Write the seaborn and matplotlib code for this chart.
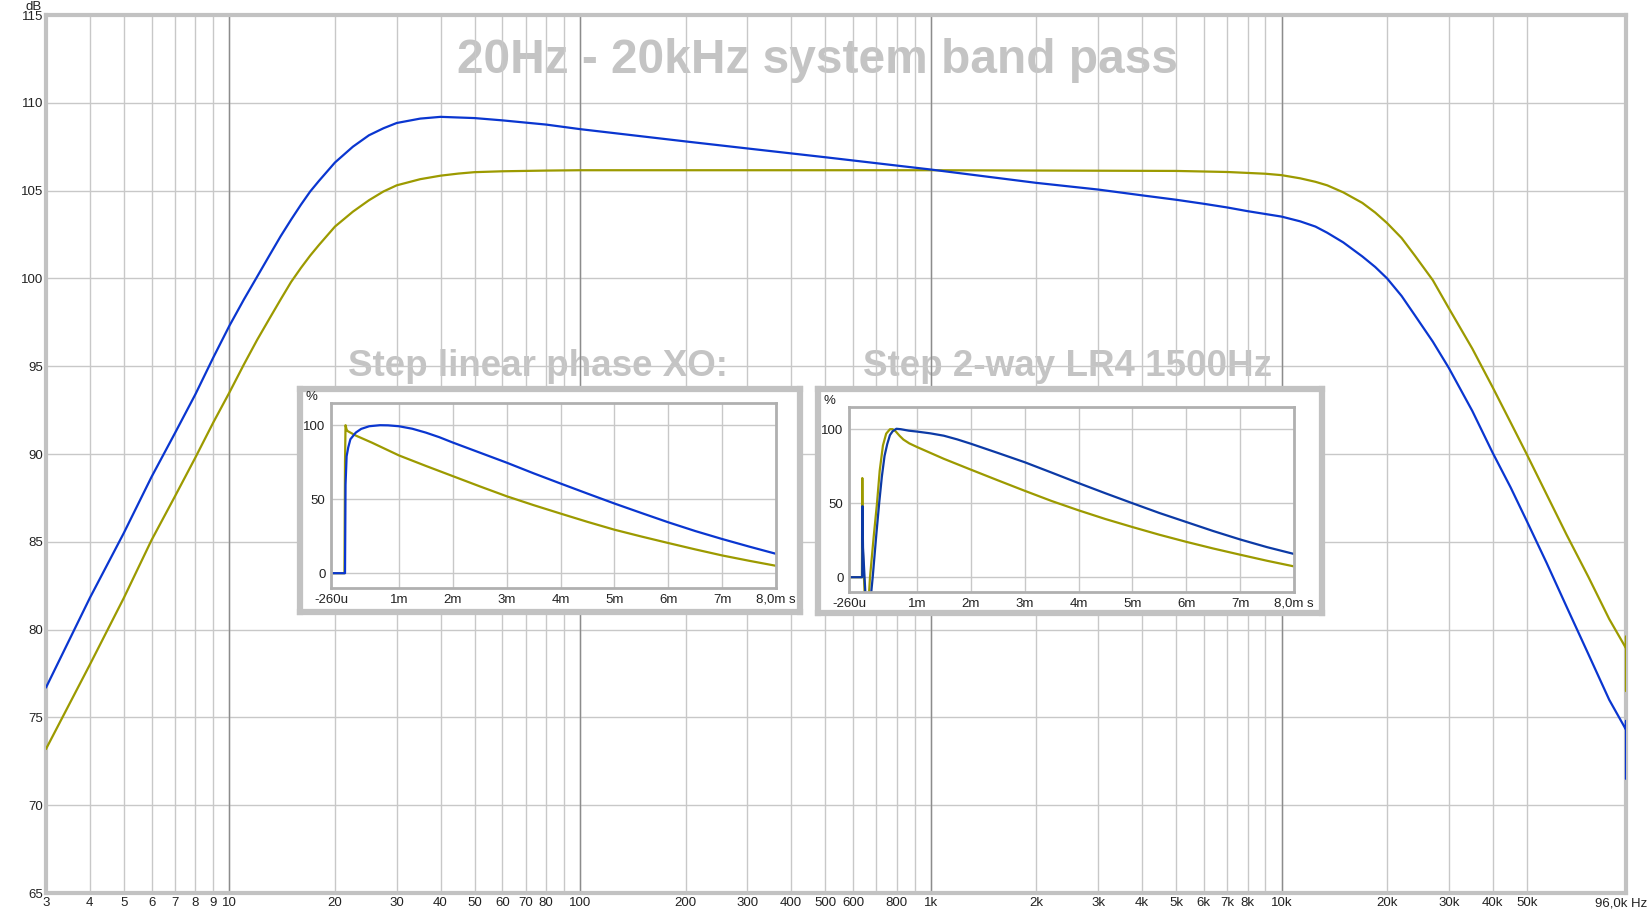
import matplotlib
matplotlib.use("Agg")
import matplotlib.pyplot as plt
import matplotlib.transforms as mtransforms
import seaborn as sns

sns.set_theme(style="white")
plt.rcParams['font.family'] = ['Liberation Sans Narrow', 'Liberation Sans', 'DejaVu Sans']

# --- main frequency response (Hz, dB) ---
blue_freq = [3, 4, 5, 6, 7, 8, 9, 10, 11, 12, 13, 14, 15, 16, 17, 18, 20, 22.5, 25, 27.5, 30, 35,
             40, 50, 60, 80, 100, 200, 300, 500, 1000, 2000, 3000, 4000, 5000, 6000, 7000, 8000,
             10000, 11300, 12500, 13500, 15000, 17000, 18500, 20000, 22000, 24000, 27000, 30000,
             35000, 40000, 45000, 50000, 57000, 65000, 75000, 86000, 96000, 96000, 96000]
blue_db = [76.7, 81.8, 85.5, 88.7, 91.2, 93.4, 95.5, 97.3, 98.8, 100.1, 101.3, 102.4, 103.35,
           104.2, 104.95, 105.55, 106.6, 107.5, 108.15, 108.55, 108.85, 109.1, 109.2, 109.13, 109.0,
           108.76, 108.5, 107.8, 107.4, 106.9, 106.2, 105.44, 105.06, 104.73, 104.48, 104.25, 104.04,
           103.83, 103.52, 103.25, 102.95, 102.6, 102.05, 101.25, 100.65, 100.0, 99.0, 97.9, 96.4,
           94.9, 92.45, 90.07, 88.1, 86.2, 83.8, 81.3, 78.6, 76.0, 74.3, 74.8, 71.5]

olive_freq = [3, 4, 5, 6, 7, 8, 9, 10, 11, 12, 13, 14, 15, 16, 17, 18, 20, 22.5, 25, 27.5, 30, 35,
              40, 45, 50, 60, 80, 100, 1000, 5000, 7000, 9000, 10000, 11300, 12500, 13500, 15000,
              17000, 18500, 20000, 22000, 24000, 27000, 30000, 35000, 40000, 45000, 50000, 57000,
              65000, 75000, 86000, 96000, 96000, 96000]
olive_db = [73.2, 78.0, 81.8, 85.1, 87.6, 89.8, 91.8, 93.5, 95.1, 96.5, 97.7, 98.8, 99.8, 100.6,
            101.3, 101.9, 102.95, 103.8, 104.45, 104.95, 105.3, 105.65, 105.85, 105.97, 106.05,
            106.1, 106.14, 106.16, 106.16, 106.12, 106.06, 105.96, 105.88, 105.7, 105.5, 105.3,
            104.9, 104.3, 103.75, 103.15, 102.3, 101.3, 99.9, 98.3, 96.0, 93.8, 91.8, 90.0, 87.7,
            85.4, 83.0, 80.6, 78.94, 79.6, 76.5]

xtick_vals = [3, 4, 5, 6, 7, 8, 9, 10, 20, 30, 40, 50, 60, 70, 80, 100, 200, 300, 400, 500, 600, 800,
              1000, 2000, 3000, 4000, 5000, 6000, 7000, 8000, 10000, 20000, 30000, 40000, 50000, 96000]
xtick_labels = ['3', '4', '5', '6', '7', '8', '9', '10', '20', '30', '40', '50', '60', '70', '80',
                '100', '200', '300', '400', '500', '600', '800', '1k', '2k', '3k', '4k', '5k', '6k',
                '7k', '8k', '10k', '20k', '30k', '40k', '50k', '96,0k Hz']
xminor_vals = [90, 700, 900, 9000]
decades = [10, 100, 1000, 10000]
ytick_vals = [65, 70, 75, 80, 85, 90, 95, 100, 105, 110, 115]

# --- step responses (ms, %) ---
s1_blue_t = [-0.26, 0.0, 0.01, 0.03, 0.06, 0.1, 0.2, 0.3, 0.45, 0.65, 0.8, 1.0, 1.25, 1.5, 1.75,
             2.0, 2.5, 3.0, 3.5, 4.0, 4.5, 5.0, 5.5, 6.0, 6.5, 7.0, 7.5, 8.0]
s1_blue_v = [0, 0, 60, 79, 85, 90.5, 95, 97.5, 99.3, 100, 99.9, 99.3, 97.6, 95, 91.9, 88.3, 81.5,
             74.7, 67.5, 60.6, 53.8, 47.1, 40.7, 34.4, 28.5, 23.1, 18, 13.1]
s1_olive_t = [-0.26, -0.01, 0.0, 0.01, 0.03, 0.05, 0.2, 0.5, 1.0, 1.5, 2.0, 2.5, 3.0, 3.5, 4.0,
              4.5, 5.0, 5.5, 6.0, 6.5, 7.0, 7.5, 8.0]
s1_olive_v = [0, 0, 75, 100, 97, 96, 93, 88.2, 79.6, 72.5, 65.6, 58.7, 52, 46, 40.3, 34.7, 29.4,
              24.8, 20.4, 16.1, 12, 8.4, 5]

s2_blue_t = [-0.26, -0.015, -0.01, 0.0, 0.05, 0.1, 0.14, 0.18, 0.25, 0.3, 0.35, 0.4, 0.45, 0.5,
             0.55, 0.62, 0.7, 0.85, 1.0, 1.25, 1.5, 1.75, 2.0, 2.5, 3.0, 3.5, 4.0, 4.5, 5.0, 5.5,
             6.0, 6.5, 7.0, 7.5, 8.0]
s2_blue_v = [0, 0, 48, 20, -15, -30, -15, 0, 30, 50, 68, 82, 90, 96, 98.6, 100.3, 100, 99, 98.4,
             97.2, 95.6, 93.1, 90.2, 84, 77.7, 70.7, 63.6, 56.7, 50, 43.4, 37.3, 31.2, 25.5, 20.3,
             15.7]
s2_olive_t = [-0.26, -0.02, -0.013, -0.005, 0.04, 0.08, 0.11, 0.13, 0.2, 0.26, 0.31, 0.37, 0.43,
              0.5, 0.55, 0.6, 0.68, 0.75, 0.86, 1.0, 1.5, 2.0, 2.5, 3.0, 3.5, 4.0, 4.5, 5.0, 5.5,
              6.0, 6.5, 7.0, 7.5, 8.0]
s2_olive_v = [0, 0, 67, 20, -20, -30, -12, 0, 28, 50, 72, 89, 97, 100, 100, 98.8, 95.5, 93.0,
              90.4, 88, 80, 72.7, 65.5, 58.4, 51.5, 45.2, 39.3, 33.9, 28.7, 23.9, 19.4, 15.2,
              11.1, 7.3]

step_ticks = [-0.26, 1, 2, 3, 4, 5, 6, 7, 8]
step_labels = ['-260u', '1m', '2m', '3m', '4m', '5m', '6m', '7m', '8,0m s']
step_yticks = [0, 50, 100]

BLUE = '#0a36d0'
OLIVE = '#9c9a00'
GRID = '#c8c8c8'
FRAME = '#c2c2c2'
TITLE_GRAY = '#c4c4c4'
LABEL_FS = 9.5
TITLE_FONT = ['Liberation Sans', 'DejaVu Sans']

W, H = 1649, 915
fig = plt.figure(figsize=(W / 100, H / 100), dpi=100)
fig.patch.set_facecolor('white')


def fbox(x0, y0, x1, y1):
    return [x0 / W, 1 - y1 / H, (x1 - x0) / W, (y1 - y0) / H]


ax = fig.add_axes(fbox(46, 15, 1626, 893))
ax.set_facecolor('white')
sns.lineplot(x=olive_freq, y=olive_db, ax=ax, color=OLIVE, lw=1.6, sort=False, estimator=None, zorder=3)
sns.lineplot(x=blue_freq, y=blue_db, ax=ax, color=BLUE, lw=1.6, sort=False, estimator=None, zorder=4)
ax.set_xscale('log')
ax.set_xlim(3, 96000)
ax.set_ylim(65, 115)
ax.set_xticks(xtick_vals)
ax.set_xticklabels(xtick_labels)
ax.set_xticks(xminor_vals, minor=True)
ax.set_xticklabels([], minor=True)
ax.set_yticks(ytick_vals)
ax.set_yticklabels([str(v) for v in ytick_vals])
ax.tick_params(axis='both', which='both', length=0, labelsize=LABEL_FS, colors='#222222', pad=3)
ax.tick_params(axis='y', pad=2)
# last frequency label sits flush against the right figure edge
last = ax.get_xticklabels()[-1]
last.set_ha('right')
last.set_transform(last.get_transform() + mtransforms.ScaledTranslation(0.21, 0, fig.dpi_scale_trans))
ax.set_axisbelow(True)
ax.grid(True, which='both', color=GRID, lw=1.0)
for d in decades:
    ax.axvline(d, color='#8c8c8c', lw=1.0, zorder=0.6)
for s in ax.spines.values():
    s.set_color(FRAME)
    s.set_linewidth(3)
ax.set_xlabel('')
ax.set_ylabel('')
ax.text(-0.003, 1.002, 'dB', transform=ax.transAxes, ha='right', va='bottom', fontsize=LABEL_FS, color='#222222')

ax.text(0.4886, 0.948, '20Hz - 20kHz system band pass', transform=ax.transAxes, ha='center',
        va='center', fontsize=34.5, fontweight='bold', color=TITLE_GRAY,
        family=TITLE_FONT, zorder=0.1)
ax.text(538 / W, 1 - 366 / H, 'Step linear phase XO:', transform=fig.transFigure, ha='center',
        va='center', fontsize=26.5, fontweight='bold', color=TITLE_GRAY,
        family=TITLE_FONT, zorder=0.1)
ax.text(1068 / W, 1 - 366 / H, 'Step 2-way LR4 1500Hz', transform=fig.transFigure, ha='center',
        va='center', fontsize=26.5, fontweight='bold', color=TITLE_GRAY,
        family=TITLE_FONT, zorder=0.1)


def step_inset(frame_box, axes_box, bt, bv, ot, ov, blue_col):
    fr = fig.add_axes(fbox(*frame_box))
    fr.set_facecolor('white')
    fr.set_xticks([])
    fr.set_yticks([])
    for s in fr.spines.values():
        s.set_color(FRAME)
        s.set_linewidth(4.5)
    ia = fig.add_axes(fbox(*axes_box))
    ia.set_facecolor('white')
    sns.lineplot(x=ot, y=ov, ax=ia, color=OLIVE, lw=1.6, sort=False, estimator=None)
    sns.lineplot(x=bt, y=bv, ax=ia, color=blue_col, lw=1.6, sort=False, estimator=None)
    ia.set_xlim(-0.26, 8.0)
    ia.set_ylim(-10, 115)
    ia.set_xticks(step_ticks)
    ia.set_xticklabels(step_labels)
    ia.set_yticks(step_yticks)
    ia.set_yticklabels([str(v) for v in step_yticks])
    ia.tick_params(length=0, labelsize=LABEL_FS, colors='#222222', pad=4)
    ia.set_axisbelow(True)
    ia.grid(True, color=GRID, lw=1.0)
    for s in ia.spines.values():
        s.set_color('#b0b0b0')
        s.set_linewidth(2)
    ia.set_xlabel('')
    ia.set_ylabel('')
    ia.text(-0.03, 1.0, '%', transform=ia.transAxes, ha='right', va='bottom', fontsize=LABEL_FS, color='#222222')
    return ia


step_inset((300, 389, 800, 612), (331, 403, 776, 588), s1_blue_t, s1_blue_v, s1_olive_t, s1_olive_v, BLUE)
step_inset((818, 389, 1322, 613), (849, 407, 1294, 592), s2_blue_t, s2_blue_v, s2_olive_t, s2_olive_v, '#0c3aa6')

fig.savefig('out.png', dpi=100)
